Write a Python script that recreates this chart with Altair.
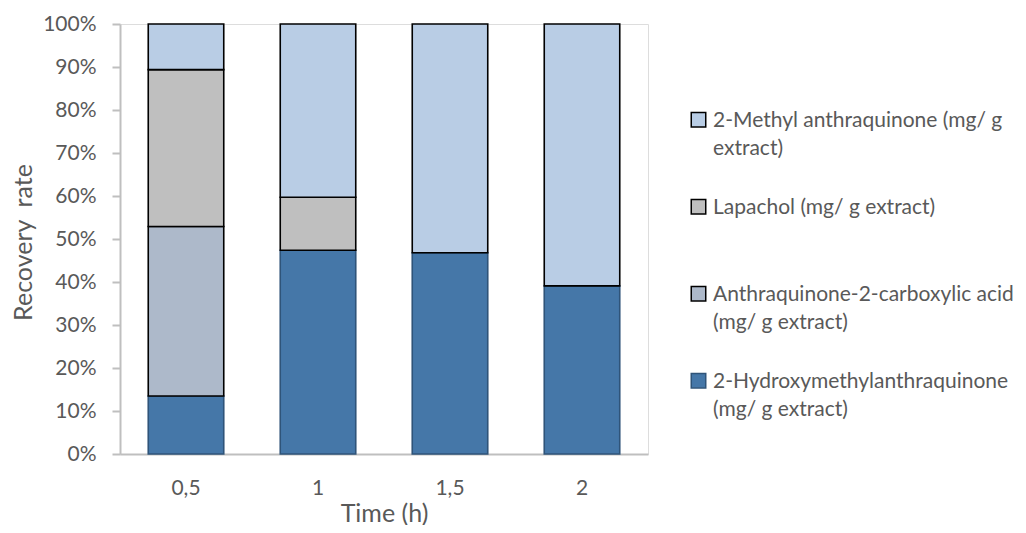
import json
import altair as alt
import pandas as pd

# ---- data ----
times = ["0,5", "1", "1,5", "2"]
series = [
    "2-Hydroxymethylanthraquinone (mg/ g extract)",
    "Anthraquinone-2-carboxylic acid (mg/ g extract)",
    "Lapachol (mg/ g extract)",
    "2-Methyl anthraquinone (mg/ g extract)",
]
hydroxy = [13.5, 47.4, 46.8, 39.1]
anthra = [39.4, 0.0, 0.0, 0.0]
lapachol = [36.5, 12.3, 0.0, 0.0]
methyl = [10.6, 40.3, 53.2, 60.9]

fill_colors = ["#4577A8", "#ADB9CA", "#BFBFBF", "#B9CDE5"]
stroke_colors = ["#2F5479", "#000000", "#000000", "#000000"]
legend_lines = [
    ["2-Hydroxymethylanthraquinone", "(mg/ g extract)"],
    ["Anthraquinone-2-carboxylic acid", "(mg/ g extract)"],
    ["Lapachol (mg/ g extract)"],
    ["2-Methyl anthraquinone (mg/ g", "extract)"],
]

values_by_series = [hydroxy, anthra, lapachol, methyl]
rows = []
for i, t in enumerate(times):
    for j, s in enumerate(series):
        v = values_by_series[j][i]
        if v > 0:
            rows.append({"time": t, "series": s, "value": v, "ord": j})
df = pd.DataFrame(rows)

legend_order = series[::-1]
fill_range = fill_colors[::-1]
stroke_range = stroke_colors[::-1]

expr = "datum.label"
for s, lines in zip(series, legend_lines):
    expr = f"datum.label == {json.dumps(s)} ? {json.dumps(lines)} : (" + expr + ")"

FONT = "Lato"
GREY = "#595959"
AXIS_GREY = "#BFBFBF"

legend = alt.Legend(
    title=None,
    orient="none",
    legendX=568,
    legendY=75,
    direction="vertical",
    gridAlign="all",
    labelExpr=expr,
    labelFont=FONT,
    labelFontSize=21,
    labelColor=GREY,
    labelLimit=500,
    labelBaseline="top",
    labelOffset=4,
    symbolType="M-1,0.40H1V2.40H-1Z",
    symbolSize=210,
    symbolStrokeWidth=1.5,
    rowPadding=27,
    padding=0,
)

chart = (
    alt.Chart(df)
    .mark_bar(strokeWidth=1.6)
    .encode(
        x=alt.X(
            "time:N",
            sort=times,
            scale=alt.Scale(paddingInner=0.428, paddingOuter=0.214),
            axis=alt.Axis(
                title="Time (h)",
                labelAngle=0,
                ticks=False,
                tickSize=0,
                labelPadding=23,
                domainColor=AXIS_GREY,
                domainWidth=2,
                labelColor=GREY,
                labelFont=FONT,
                labelFontSize=21,
                titleFont=FONT,
                titleFontSize=25,
                titleFontWeight="normal",
                titleColor=GREY,
                titleX=264,
                titleY=67,
                titleBaseline="alphabetic",
                titleAlign="center",
            ),
        ),
        y=alt.Y(
            "value:Q",
            stack="zero",
            scale=alt.Scale(domain=[0, 100], nice=False),
            axis=alt.Axis(
                values=list(range(0, 101, 10)),
                labelExpr="datum.value + '%'",
                title="Recovery\u00a0 rate",
                grid=False,
                domainColor=AXIS_GREY,
                domainWidth=2,
                tickColor=AXIS_GREY,
                tickWidth=2,
                tickSize=8,
                labelPadding=16,
                labelColor=GREY,
                labelFont=FONT,
                labelFontSize=21,
                titleFont=FONT,
                titleFontSize=25,
                titleFontWeight="normal",
                titleColor=GREY,
                titleAngle=270,
                titleX=-97,
                titleY=218,
                titleAlign="center",
                titleBaseline="middle",
            ),
        ),
        color=alt.Color(
            "series:N",
            scale=alt.Scale(domain=legend_order, range=fill_range),
            legend=legend,
        ),
        stroke=alt.Stroke(
            "series:N",
            scale=alt.Scale(domain=legend_order, range=stroke_range),
            legend=legend,
        ),
        order=alt.Order("ord:Q", sort="ascending"),
    )
    .properties(
        width=528,
        height=430,
        autosize=alt.AutoSizeParams(type="none"),
        padding={"left": 112, "top": 16, "right": 370, "bottom": 71},
    )
    .configure_view(stroke=None)
    .configure(background="white", style={"guide-label": {"lineHeight": 28}})
)

chart.save("out.html", embed_options={"renderer": "svg", "actions": False})
